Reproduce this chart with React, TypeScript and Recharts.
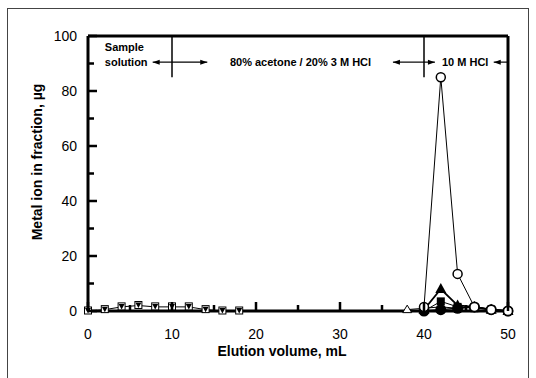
import React from 'react';
import { ComposedChart, Line, XAxis, YAxis, ReferenceLine, Scatter } from 'recharts';

// Elution volume (mL) and metal ion (µg) for each series
const downTriX = [0, 2, 4, 6, 8, 10, 12, 14, 16, 18];
const downTriY = [0, 0.5, 1.5, 2, 1.5, 1.5, 1.5, 0.5, 0, 0];
const openCircleX = [40, 42, 44, 46, 48, 50];
const openCircleY = [1.5, 85, 13.5, 1.5, 0.5, 0];
const filledTriX = [40, 42, 44, 46, 48, 50];
const filledTriY = [0.5, 8, 2, 1.5, 0.5, 0];
const filledSquareX = [40, 42, 44, 46, 48, 50];
const filledSquareY = [0, 3.5, 1.5, 1, 0.5, 0];
const openTriX = [38, 40, 42, 44, 46, 48, 50];
const openTriY = [0.5, 1, 1.5, 1, 1.5, 0.5, 0];
const filledCircleX = [40, 42, 44, 46, 48, 50];
const filledCircleY = [0, 0.5, 1, 1.5, 0.5, 0];

const xTicks = [0, 5, 10, 15, 20, 25, 30, 35, 40, 45, 50];
const yTicks = [0, 10, 20, 30, 40, 50, 60, 70, 80, 90, 100];
const xMajor = [0, 10, 20, 30, 40, 50];
const xMinor = [5, 15, 25, 35, 45];
const yMajor = [0, 20, 40, 60, 80, 100];
const yMinor = [10, 30, 50, 70, 90];

const dividers = [10, 40];
const labels = [
  { x: 2, y: 96, text: 'Sample', anchor: 'start' },
  { x: 2, y: 90.5, text: 'solution', anchor: 'start' },
  { x: 25.3, y: 90.5, text: '80% acetone / 20% 3 M HCl', anchor: 'middle' },
  { x: 44.9, y: 90.5, text: '10 M HCl', anchor: 'middle' },
];
const arrowShafts = [
  { x1: 7.7, x2: 10 },
  { x1: 10, x2: 14.2 },
  { x1: 36.3, x2: 40 },
  { x1: 40, x2: 41.3 },
  { x1: 48.3, x2: 50 },
];
const arrowHeads = [
  { x: 7.7, y: 90.5, dir: -1 },
  { x: 14.2, y: 90.5, dir: 1 },
  { x: 36.3, y: 90.5, dir: -1 },
  { x: 41.3, y: 90.5, dir: 1 },
  { x: 48.3, y: 90.5, dir: -1 },
];

const toPts = (xs: number[], ys: number[]) => xs.map((x, i) => ({ x, y: ys[i] }));
const xTickMarks = xTicks.map((t) => ({ x: t, y: 0, major: t % 10 === 0 }));
const yTickMarks = yTicks.map((t) => ({ x: 0, y: t, major: t % 20 === 0 }));

const FONT = 'Liberation Sans, Arial, sans-serif';
const noLabel = () => '';

const XTick = (props: any) => {
  const { x, y, payload } = props;
  if (payload.value % 10 !== 0) return <g />;
  return (
    <text x={x} y={y + 28} textAnchor="middle" fontSize={14} fontFamily={FONT} fill="#000">
      {payload.value}
    </text>
  );
};

const YTick = (props: any) => {
  const { x, y, payload } = props;
  if (payload.value % 20 !== 0) return <g />;
  return (
    <text x={x - 11} y={y + 5} textAnchor="end" fontSize={14} fontFamily={FONT} fill="#000">
      {payload.value}
    </text>
  );
};

const xTickDot = (p: any) => {
  const { cx, cy, index, payload } = p;
  const len = payload && payload.major ? 9 : 6;
  if (cx == null || cy == null) return <g key={`xtm-${index}`} />;
  return <rect key={`xtm-${index}`} x={cx - 1.25} y={cy - len} width={2.5} height={len} fill="#000" />;
};
const yTickDot = (p: any) => {
  const { cx, cy, index, payload } = p;
  const len = payload && payload.major ? 9 : 6;
  if (cx == null || cy == null) return <g key={`ytm-${index}`} />;
  return <rect key={`ytm-${index}`} x={cx} y={cy - 1.25} width={len} height={2.5} fill="#000" />;
};

const mk = (kind: string) => (p: any) => {
  const { cx, cy, index } = p;
  const k = `${kind}-${index}`;
  if (cx == null || cy == null) return <g key={k} />;
  switch (kind) {
    case 'downTri':
      return (
        <g key={k}>
          <rect x={cx - 3.5} y={cy - 4} width={7} height={7} fill="#fff" stroke="#000" strokeWidth={1} />
          <path d={`M${cx - 3},${cy - 3} L${cx + 3},${cy - 3} L${cx},${cy + 2.5} Z`} fill="#000" />
        </g>
      );
    case 'openCircle':
      return <circle key={k} cx={cx} cy={cy} r={4.5} fill="#fff" stroke="#000" strokeWidth={1.5} />;
    case 'filledTri':
      return <path key={k} d={`M${cx},${cy - 6} L${cx + 5.5},${cy + 4} L${cx - 5.5},${cy + 4} Z`} fill="#000" />;
    case 'filledSquare':
      return <rect key={k} x={cx - 4} y={cy - 4} width={8} height={8} fill="#000" />;
    case 'openTri':
      return <path key={k} d={`M${cx},${cy - 4.5} L${cx + 4.5},${cy + 3} L${cx - 4.5},${cy + 3} Z`} fill="#fff" stroke="#000" strokeWidth={1} />;
    case 'filledCircle':
      return <circle key={k} cx={cx} cy={cy} r={5.5} fill="#000" />;
    default:
      return <g key={k} />;
  }
};

const LabelShape = (p: any) => {
  const { cx, cy, payload } = p;
  return (
    <text x={cx} y={cy} dy={4} textAnchor={payload.anchor} fontSize={11} fontWeight="bold" fontFamily={FONT} fill="#000">
      {payload.text}
    </text>
  );
};

const HeadShape = (p: any) => {
  const { cx, cy, payload } = p;
  const d = payload.dir;
  return <path d={`M${cx},${cy} L${cx - d * 7},${cy - 2.5} L${cx - d * 7},${cy + 2.5} Z`} fill="#000" />;
};

const tickStroke = { stroke: '#000', strokeWidth: 2.5 };

export default function App() {
  return (
    <div style={{ position: 'absolute', left: 0, top: 0, width: 536, height: 378, background: '#fff', overflow: 'hidden' }}>
      <div
        style={{
          position: 'absolute',
          left: 7,
          top: 8,
          width: 520,
          height: 380,
          borderLeft: '1px solid #444',
          borderTop: '1px solid #444',
          borderRight: '1px solid #444',
        }}
      />
      <ComposedChart
        width={536}
        height={378}
        margin={{ top: 36, right: 28, bottom: 37, left: 28 }}
        style={{ position: 'absolute', left: 0, top: 0, overflow: 'visible' }}
      >
        <XAxis
          type="number"
          dataKey="x"
          domain={[0, 50]}
          ticks={xTicks}
          interval={0}
          axisLine={false}
          tickLine={false}
          tickSize={0}
          tickMargin={0}
          tick={<XTick />}
          height={30}
        />
        <YAxis
          type="number"
          dataKey="y"
          domain={[0, 100]}
          ticks={yTicks}
          interval={0}
          axisLine={false}
          tickLine={false}
          tickSize={0}
          tickMargin={0}
          tick={<YTick />}
          width={60}
        />
        {/* inward tick marks drawn by mirrored helper axes */}
        <XAxis xAxisId="xmaj" type="number" domain={[0, 50]} ticks={xMajor} interval={0} mirror height={0}
          axisLine={false} tickLine={tickStroke} tickSize={9} tickFormatter={noLabel} />
        <XAxis xAxisId="xmin" type="number" domain={[0, 50]} ticks={xMinor} interval={0} mirror height={0}
          axisLine={false} tickLine={tickStroke} tickSize={6} tickFormatter={noLabel} />
        <YAxis yAxisId="ymaj" type="number" domain={[0, 100]} ticks={yMajor} interval={0} mirror width={0}
          axisLine={false} tickLine={tickStroke} tickSize={9} tickFormatter={noLabel} />
        <YAxis yAxisId="ymin" type="number" domain={[0, 100]} ticks={yMinor} interval={0} mirror width={0}
          axisLine={false} tickLine={tickStroke} tickSize={6} tickFormatter={noLabel} />
        <ReferenceLine x={0} stroke="#000" strokeWidth={3} ifOverflow="visible" />
        <ReferenceLine x={50} stroke="#000" strokeWidth={3} ifOverflow="visible" />
        <ReferenceLine y={0} stroke="#000" strokeWidth={3} ifOverflow="visible" />
        <ReferenceLine y={100} stroke="#000" strokeWidth={3} ifOverflow="visible" />
        {dividers.map((d) => (
          <ReferenceLine
            key={`div-${d}`}
            segment={[{ x: d, y: 100 }, { x: d, y: 85 }]}
            stroke="#000"
            strokeWidth={1.5}
            ifOverflow="visible"
          />
        ))}
        {arrowShafts.map((a, i) => (
          <ReferenceLine
            key={`shaft-${i}`}
            segment={[{ x: a.x1, y: 90.5 }, { x: a.x2, y: 90.5 }]}
            stroke="#000"
            strokeWidth={1.2}
            ifOverflow="visible"
          />
        ))}
        <Scatter data={labels} dataKey="y" shape={<LabelShape />} isAnimationActive={false} />
        <Scatter data={arrowHeads} dataKey="y" shape={<HeadShape />} isAnimationActive={false} />
        <Line data={toPts(downTriX, downTriY)} dataKey="y" stroke="#000" strokeWidth={1} dot={mk('downTri')} isAnimationActive={false} />
        <Line data={toPts(openTriX, openTriY)} dataKey="y" stroke="#000" strokeWidth={1} dot={mk('openTri')} isAnimationActive={false} />
        <Line data={toPts(filledSquareX, filledSquareY)} dataKey="y" stroke="#000" strokeWidth={1} dot={mk('filledSquare')} isAnimationActive={false} />
        <Line data={toPts(filledTriX, filledTriY)} dataKey="y" stroke="#000" strokeWidth={1.8} dot={mk('filledTri')} isAnimationActive={false} />
        <Line data={toPts(filledCircleX, filledCircleY)} dataKey="y" stroke="#000" strokeWidth={1.5} dot={mk('filledCircle')} isAnimationActive={false} />
        <Line data={toPts(openCircleX, openCircleY)} dataKey="y" stroke="#000" strokeWidth={1} dot={mk('openCircle')} isAnimationActive={false} />
        <Line data={xTickMarks} dataKey="y" stroke="#000" strokeOpacity={0} dot={xTickDot} activeDot={false} legendType="none" isAnimationActive={false} />
        <Line data={yTickMarks} dataKey="y" stroke="#000" strokeOpacity={0} dot={yTickDot} activeDot={false} legendType="none" isAnimationActive={false} />
        <text x={37} y={162} transform="rotate(-90 37 162)" textAnchor="middle" dominantBaseline="central" fontSize={14} fontWeight="bold" fontFamily={FONT} fill="#000">
          Metal ion in fraction, µg
        </text>
        <text x={282} y={356} textAnchor="middle" fontSize={14} fontWeight="bold" fontFamily={FONT} fill="#000">
          Elution volume, mL
        </text>
      </ComposedChart>
    </div>
  );
}
